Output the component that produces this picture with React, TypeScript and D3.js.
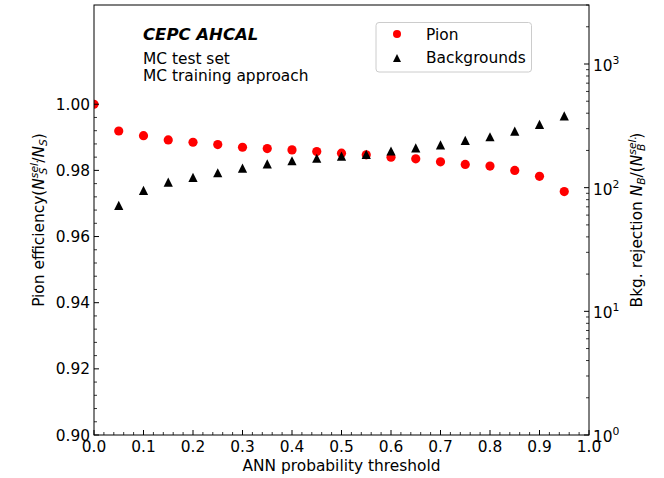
import React from 'react';
import * as d3 from 'd3';

const pionThresholds = [0.0, 0.05, 0.1, 0.15, 0.2, 0.25, 0.3, 0.35, 0.4, 0.45, 0.5, 0.55, 0.6, 0.65, 0.7, 0.75, 0.8, 0.85, 0.9, 0.95];
const pionEff = [1.0, 0.9919, 0.9905, 0.9892, 0.9885, 0.9878, 0.987, 0.9866, 0.9862, 0.9857, 0.9852, 0.9847, 0.984, 0.9835, 0.9826, 0.9818, 0.9813, 0.98, 0.9782, 0.9736];
const bkgThresholds = [0.05, 0.1, 0.15, 0.2, 0.25, 0.3, 0.35, 0.4, 0.45, 0.5, 0.55, 0.6, 0.65, 0.7, 0.75, 0.8, 0.85, 0.9, 0.95];
const bkgRejection = [71.9, 95.1, 111, 121, 132, 144, 156, 165, 173, 180, 186, 198, 210, 222, 241, 258, 287, 325, 381];
const xTicks = [0, 0.1, 0.2, 0.3, 0.4, 0.5, 0.6, 0.7, 0.8, 0.9, 1.0];
const yLeftTicks = [0.9, 0.92, 0.94, 0.96, 0.98, 1.0];
const yRightExponents = [0, 1, 2, 3];

const W = 664;
const H = 478;
const L = 94, R = 589, T = 5, B = 435;
const FONT = 'DejaVu Sans, sans-serif';
const FS = 15.4;

export default function App() {
  const x = d3.scaleLinear().domain([0, 1]).range([L, R]);
  const yL = d3.scaleLinear().domain([0.9, 1.03]).range([B, T]);
  const yR = d3.scaleLog().domain([1, 3000]).range([B, T]);

  const xMinor = d3.range(0, 1.0001, 0.02).filter(v => Math.abs(Math.round(v * 10) - v * 10) > 1e-6);
  const yMinor = d3.range(0.9, 1.0001, 0.004).filter(v => Math.abs(Math.round(v * 50) - v * 50) > 1e-6);
  const rMinor: number[] = [];
  for (let e = 0; e <= 3; e++) {
    for (let m = 2; m <= 9; m++) {
      const v = m * Math.pow(10, e);
      if (v <= 3000) rMinor.push(v);
    }
  }

  const tri = (s: number) => `M0,${-s}L${-s},${s}L${s},${s}Z`;

  return (
    <svg width={W} height={H} style={{ position: 'absolute', left: 0, top: 0, background: '#fff' }} fontFamily={FONT}>
      <defs>
        <clipPath id="plotclip">
          <rect x={L} y={T} width={R - L} height={B - T} />
        </clipPath>
      </defs>
      <rect x={0} y={0} width={W} height={H} fill="#fff" />

      {/* data */}
      <g clipPath="url(#plotclip)">
        {pionThresholds.map((t, i) => (
          <circle key={'p' + i} cx={x(t)} cy={yL(pionEff[i])} r={4.6} fill="#ff0000" />
        ))}
        {bkgThresholds.map((t, i) => (
          <path key={'b' + i} d={tri(4.6)} transform={`translate(${x(t)},${yR(bkgRejection[i])})`} fill="#000" />
        ))}
      </g>

      {/* spines */}
      <rect x={L} y={T} width={R - L} height={B - T} fill="none" stroke="#000" strokeWidth={1} />

      {/* x ticks */}
      {xTicks.map(t => (
        <g key={'xt' + t}>
          <line x1={x(t)} x2={x(t)} y1={B} y2={B - 5} stroke="#000" strokeWidth={1} />
          <text x={x(t)} y={452} fontSize={FS} textAnchor="middle" fill="#000">{t.toFixed(1)}</text>
        </g>
      ))}
      {xMinor.map(t => (
        <line key={'xm' + t} x1={x(t)} x2={x(t)} y1={B} y2={B - 3} stroke="#000" strokeWidth={0.8} />
      ))}

      {/* left y ticks */}
      {yLeftTicks.map(t => (
        <g key={'yl' + t}>
          <line x1={L} x2={L + 5} y1={yL(t)} y2={yL(t)} stroke="#000" strokeWidth={1} />
          <text x={L - 4} y={yL(t) + 5.5} fontSize={FS} textAnchor="end" fill="#000">{t.toFixed(2)}</text>
        </g>
      ))}
      {yMinor.map(t => (
        <line key={'ylm' + t} x1={L} x2={L + 3} y1={yL(t)} y2={yL(t)} stroke="#000" strokeWidth={0.8} />
      ))}

      {/* right y ticks */}
      {yRightExponents.map(e => (
        <g key={'yr' + e}>
          <line x1={R} x2={R - 5} y1={yR(Math.pow(10, e))} y2={yR(Math.pow(10, e))} stroke="#000" strokeWidth={1} />
          <text x={R + 4} y={yR(Math.pow(10, e)) + 7} fontSize={FS} fill="#000">
            10<tspan fontSize={10.8} dy={-7}>{e}</tspan>
          </text>
        </g>
      ))}
      {rMinor.map(v => (
        <line key={'yrm' + v} x1={R} x2={R - 3} y1={yR(v)} y2={yR(v)} stroke="#000" strokeWidth={0.8} />
      ))}

      {/* axis labels */}
      <text x={(L + R) / 2} y={471} fontSize={FS} textAnchor="middle" fill="#000">ANN probability threshold</text>
      <text transform={`translate(44,${(T + B) / 2}) rotate(-90)`} fontSize={FS} textAnchor="middle" fill="#000">
        Pion efficiency(<tspan fontStyle="italic">N</tspan><tspan fontSize={10.8} fontStyle="italic" dy={-6}>sel.</tspan><tspan fontSize={10.8} fontStyle="italic" dx={-15} dy={9}>S</tspan><tspan dy={-3}> /</tspan><tspan fontStyle="italic">N</tspan><tspan fontSize={10.8} fontStyle="italic" dy={3}>S</tspan><tspan dy={-3}>)</tspan>
      </text>
      <text transform={`translate(642,${(T + B) / 2}) rotate(-90)`} fontSize={FS} textAnchor="middle" fill="#000">
        Bkg. rejection <tspan fontStyle="italic">N</tspan><tspan fontSize={10.8} fontStyle="italic" dy={3}>B</tspan><tspan dy={-3}>/(</tspan><tspan fontStyle="italic">N</tspan><tspan fontSize={10.8} fontStyle="italic" dy={-6}>sel.</tspan><tspan fontSize={10.8} fontStyle="italic" dx={-15} dy={9}>B</tspan><tspan dy={-3}>  )</tspan>
      </text>

      {/* annotations */}
      <text x={143} y={40} fontSize={16.5} fontWeight="bold" fontStyle="italic" fill="#000">CEPC AHCAL</text>
      <text x={143} y={64} fontSize={FS} fill="#000">MC test set</text>
      <text x={143} y={81} fontSize={FS} fill="#000">MC training approach</text>

      {/* legend */}
      <rect x={376} y={22.5} width={155.5} height={49.5} rx={3} ry={3} fill="#fff" fillOpacity={0.8} stroke="#cccccc" strokeWidth={1} />
      <circle cx={397} cy={34} r={4} fill="#ff0000" />
      <text x={426} y={39.5} fontSize={FS} fill="#000">Pion</text>
      <path d={tri(4)} transform="translate(397,58)" fill="#000" />
      <text x={426} y={63} fontSize={FS} fill="#000">Backgrounds</text>
    </svg>
  );
}
